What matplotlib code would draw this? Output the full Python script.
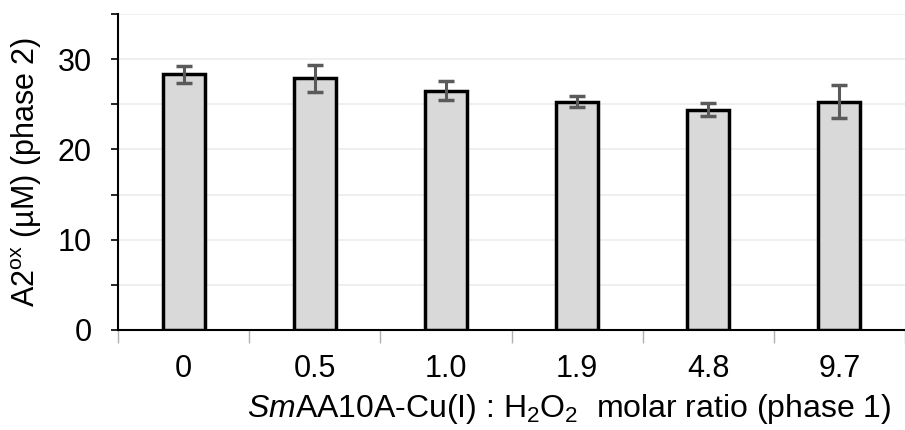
import numpy as np
import matplotlib
matplotlib.use('Agg')
import matplotlib.pyplot as plt
from matplotlib.ticker import MultipleLocator

plt.rcParams['font.family'] = ['Liberation Sans', 'DejaVu Sans']
plt.rcParams['mathtext.fontset'] = 'custom'
plt.rcParams['mathtext.rm'] = 'Liberation Sans'
plt.rcParams['mathtext.it'] = 'Liberation Sans:italic'

ratios = ['0', '0.5', '1.0', '1.9', '4.8', '9.7']
a2ox = [28.3, 27.9, 26.5, 25.3, 24.4, 25.3]
err = [0.9, 1.5, 1.05, 0.6, 0.7, 1.8]

fig = plt.figure(figsize=(9.05, 4.3), dpi=100)
ax = fig.add_axes([0.1304, 0.2326, 0.8696, 0.735])

x = np.arange(len(ratios))
ax.bar(x, a2ox, width=0.32, color='#d9d9d9', edgecolor='black', linewidth=2.5, zorder=3)
ax.errorbar(x, a2ox, yerr=err, fmt='none', ecolor='#5a5a5a', elinewidth=2.2,
            capsize=5.5, capthick=2.5, zorder=4)

ax.set_ylim(0, 35)
ax.set_xlim(-0.5, 5.42)
ax.yaxis.set_major_locator(MultipleLocator(10))
ax.yaxis.set_minor_locator(MultipleLocator(5))
ax.grid(axis='y', which='both', color='#ececec', linewidth=1.2, zorder=0)

# x ticks at category boundaries, labels centred under bars
ax.set_xticks(np.arange(-0.5, 6, 1.0))
ax.set_xticklabels([])
ax.set_xticks(x, minor=True)
ax.set_xticklabels(ratios, minor=True)
ax.tick_params(axis='x', which='major', length=9, color='#b0b0b0', width=1)
ax.tick_params(axis='x', which='minor', length=0, pad=17, labelsize=22)
ax.tick_params(axis='y', which='both', length=5, width=1.2, labelsize=22, pad=14)

for s in ['top', 'right']:
    ax.spines[s].set_visible(False)
ax.spines['left'].set_linewidth(1.5)
ax.spines['bottom'].set_linewidth(1.5)

ax.set_ylabel(r'A2$^{\rm ox}$ (µM) (phase 2)', fontsize=22, labelpad=10)
ax.set_xlabel(r'$\it{Sm}$AA10A-Cu(I) : H$_2$O$_2$  molar ratio (phase 1)',
              fontsize=23, labelpad=6, x=0.573)

fig.savefig('out.png', dpi=100)
